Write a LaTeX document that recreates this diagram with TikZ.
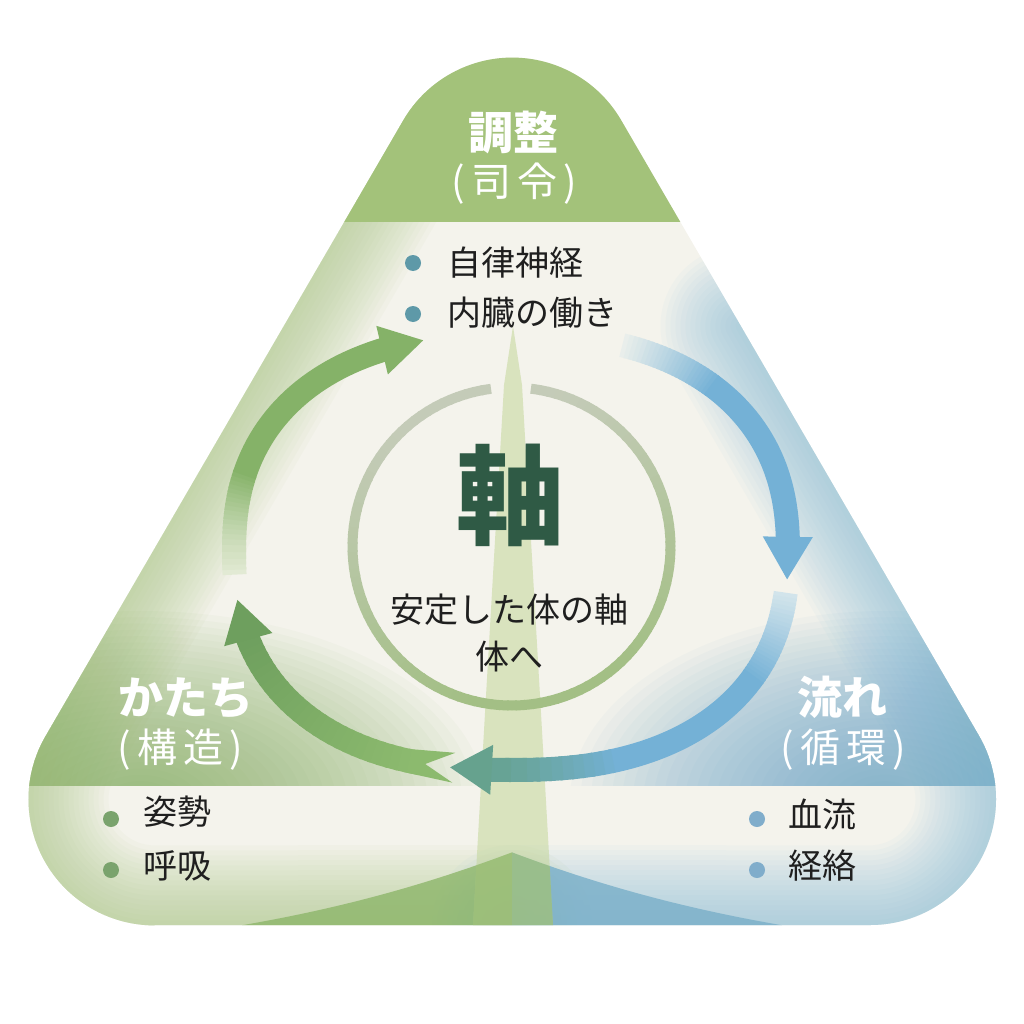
\documentclass[tikz,border=0pt]{standalone}
\usepackage{fontspec}
\setmainfont{Noto Sans CJK JP}
\usetikzlibrary{calc}
\definecolor{bgc}{HTML}{F4F3EC}
\definecolor{gGlow}{HTML}{A9C783}
\definecolor{bGlow}{HTML}{8DC0DA}
\definecolor{gBand}{HTML}{88B064}
\definecolor{bBand}{HTML}{6AA7CB}
\definecolor{gLens}{HTML}{8DB66A}
\definecolor{bLens}{HTML}{7DB1CA}
\definecolor{gTop}{HTML}{A3C27A}
\definecolor{beamc}{HTML}{C3D69A}
\definecolor{ringL}{HTML}{C4CBB8}
\definecolor{ringG}{HTML}{A3BF85}
\definecolor{gArrL}{HTML}{8CBA6E}
\definecolor{gArrD}{HTML}{6E9F5E}
\definecolor{gArrU}{HTML}{85B268}
\definecolor{bArr}{HTML}{74B1D6}
\definecolor{tealc}{HTML}{66A28E}
\definecolor{fadeG}{HTML}{E6ECD8}
\definecolor{fadeB}{HTML}{EEF1EC}
\definecolor{fadeC}{HTML}{D6E6EC}
\definecolor{dotT}{HTML}{5E99A8}
\definecolor{dotG}{HTML}{7AA36D}
\definecolor{dotB}{HTML}{80ADCB}
\definecolor{axisc}{HTML}{2F5A45}
\definecolor{txt}{HTML}{1F1F1F}
\def\mytri{(154,925) -- (870,925) arc[start angle=90,end angle=-30,radius=126] -- (621.4,120.6) arc[start angle=-30,end angle=-150,radius=126] -- (45.4,736.4) arc[start angle=210,end angle=90,radius=126] -- cycle}
\def\myleft{(402.6,120.6) -- (45.4,736.4) arc[start angle=210,end angle=90,radius=126] -- (512,925)}
\def\myright{(740.5,326) -- (978.6,736.4) arc[start angle=-30,end angle=90,radius=126] -- (512,925)}
\def\gcurve{(200,932) .. controls (380,905) and (520,860) .. (720,760) -- (720,1024) -- (0,1024) -- (0,932) -- cycle}
\def\bcurve{(824,932) .. controls (644,905) and (504,860) .. (304,760) -- (304,1024) -- (1024,1024) -- (1024,932) -- cycle}
\def\beampath{(513,326) -- (522,385) -- (541,713) -- (553,925) -- (473,925) -- (485,713) -- (504,385) -- cycle}
\tikzset{
  seg/.style={line width=24pt, line cap=butt, line join=round},
  bul/.style={font=\fontsize{34}{40}\selectfont, text=txt, anchor=west, inner sep=0pt},
  ttl/.style={font=\fontsize{45}{52}\selectfont\bfseries, text=white, inner sep=0pt},
  subt/.style={font=\fontsize{40}{46}\selectfont, text=white, inner sep=0pt},
  dotc/.style={circle, inner sep=0pt, minimum size=16pt},
  glow/.style={line join=round, line cap=round},
}
\begin{document}
\begin{tikzpicture}[x=1pt,y=-1pt,
  declare function={ex(\u)=511+277*cos(\u)*pow(abs(cos(\u))+0.00001,-0.15);
                    ey(\u)=552+218*sin(\u)*pow(abs(sin(\u))+0.00001,-0.15);}]
\useasboundingbox (0,0) rectangle (1024,1024);
\begin{scope}
  \clip \mytri;
  \fill[bgc] (0,0) rectangle (1024,1024);
  % edge glows
  \foreach \w in {10,20,...,160} {\draw[gGlow, glow, opacity=0.05, line width=\w pt] \myleft;}
  \foreach \w in {10,20,...,160} {\draw[bGlow, glow, opacity=0.055, line width=\w pt] \myright;}
  % bands
  \begin{scope}
    \clip (0,0) rectangle (1024,785);
    \foreach \k in {1,...,30} {\fill[gBand, opacity=0.045] (140,800) ellipse [x radius=11.5*\k, y radius=6.3*\k];}
    \foreach \k in {1,...,30} {\fill[bBand, opacity=0.045] (885,800) ellipse [x radius=10.5*\k, y radius=6.3*\k];}
  \end{scope}
  % bottom lenses
  \begin{scope}
    \clip (0,0) rectangle (512,1024);
    \fill[gLens, opacity=0.8] \gcurve;
  \end{scope}
  \begin{scope}
    \clip (512,0) rectangle (1024,1024);
    \fill[bLens, opacity=0.85] \bcurve;
  \end{scope}
  % top band
  \fill[gTop] (0,0) rectangle (1024,222);
  % beam
  \fill[beamc, opacity=0.55] \beampath;
  \begin{scope}
    \clip \beampath;
    \clip \gcurve;
    \fill[gLens, opacity=0.5] \bcurve;
  \end{scope}
\end{scope}
% ring
\foreach \a in {277,280,...,620} {
  \pgfmathsetmacro\b{min(\a+3.6,623.3)}
  \pgfmathtruncatemacro\p{max(0,min(100,50+55*sin(\a)+15*cos(\a)))}
  \draw[line width=10pt, color=ringG!\p!ringL] (511.5,546.5) ++(\a:159) arc[start angle=\a, end angle=\b, radius=159];
}
% arrow key points
\coordinate (g1n) at ({ex(104.6)},{ey(104.6)});
\coordinate (g1a) at ({ex(99)},{ey(99)});
\coordinate (g1b) at ({ex(100)},{ey(100)});
\coordinate (g1q) at ({ex(108)},{ey(108)});
\coordinate (g1r) at ({ex(109)},{ey(109)});
\coordinate (g1base) at ({ex(160)},{ey(160)});
\coordinate (g1tip) at ({ex(170.3)},{ey(170.3)});
\coordinate (g2base) at ({ex(246)},{ey(246)});
\coordinate (g2tip) at ({ex(255)},{ey(255)});
\coordinate (b1base) at ({ex(357.5)},{ey(357.5)});
\coordinate (b1tip) at ({ex(365)},{ey(365)});
\coordinate (b2base) at ({ex(92.5)},{ey(92.5)});
\coordinate (b2tip) at ({ex(99.7)},{ey(99.7)});
% lower green arrow (swallowtail tail)
\fill[gArrL] (g1n) -- ($(g1a)!15pt!90:(g1b)$) -- ($(g1q)!12pt!90:(g1r)$) -- ($(g1q)!12pt!-90:(g1r)$) -- ($(g1a)!15pt!-90:(g1b)$) -- cycle;
\foreach \a in {106,108,...,158} {
  \pgfmathsetmacro\b{\a+2.6}
  \pgfmathtruncatemacro\p{(\a-106)/54*100}
  \draw[seg, color=gArrD!\p!gArrL] plot[domain=\a:\b, samples=3] ({ex(\x)},{ey(\x)});
}
\fill[gArrD] (g1tip) -- ($(g1base)!25pt!90:(g1tip)$) -- ($(g1base)!25pt!-90:(g1tip)$) -- cycle;
% upper green arrow
\foreach \a in {176,177,...,196} {
  \pgfmathsetmacro\b{\a+1.5}
  \pgfmathtruncatemacro\p{(\a-175)/22*100}
  \draw[seg, color=gArrU!\p!fadeG] plot[domain=\a:\b, samples=2] ({ex(\x)},{ey(\x)});
}
\draw[seg, gArrU] plot[domain=197:247, samples=30] ({ex(\x)},{ey(\x)});
\fill[gArrU] (g2tip) -- ($(g2base)!25pt!90:(g2tip)$) -- ($(g2base)!25pt!-90:(g2tip)$) -- cycle;
% upper blue arrow
\foreach \a in {290,291,...,312} {
  \pgfmathsetmacro\b{\a+1.5}
  \pgfmathtruncatemacro\p{(\a-289)/24*100}
  \draw[seg, color=bArr!\p!fadeB] plot[domain=\a:\b, samples=2] ({ex(\x)},{ey(\x)});
}
\draw[seg, bArr] plot[domain=313:358.5, samples=40] ({ex(\x)},{ey(\x)});
\fill[bArr] (b1tip) -- ($(b1base)!25pt!90:(b1tip)$) -- ($(b1base)!25pt!-90:(b1tip)$) -- cycle;
% lower blue arrow
\foreach \a in {368,369,...,390} {
  \pgfmathsetmacro\b{\a+1.5}
  \pgfmathtruncatemacro\p{(\a-367)/24*100}
  \draw[seg, color=bArr!\p!fadeC] plot[domain=\a:\b, samples=2] ({ex(\x)},{ey(\x)});
}
\draw[seg, bArr] plot[domain=391:432.5, samples=30] ({ex(\x)},{ey(\x)});
\foreach \a in {432,434,...,450} {
  \pgfmathsetmacro\b{min(\a+2.6,453.5)}
  \pgfmathtruncatemacro\p{(\a-430)/22*100}
  \draw[seg, color=tealc!\p!bArr] plot[domain=\a:\b, samples=3] ({ex(\x)},{ey(\x)});
}
\fill[tealc] (b2tip) -- ($(b2base)!25pt!90:(b2tip)$) -- ($(b2base)!25pt!-90:(b2tip)$) -- cycle;
% texts
\node[ttl] (t1) at (513,132) {調整};
\node[subt] (s1) at (514,184) {(\hspace{6pt}司\hspace{6pt}令\hspace{6pt})};
\node[ttl] (t2) at (186,698) {かたち};
\node[subt] (s2) at (180,750) {(\hspace{6pt}構\hspace{6pt}造\hspace{6pt})};
\node[ttl] (t3) at (842,697) {流れ};
\node[subt] (s3) at (843,750) {(\hspace{6pt}循\hspace{6pt}環\hspace{6pt})};
\node[dotc, fill=dotT] (d1) at (413,263) {};
\node[dotc, fill=dotT] (d2) at (413,314) {};
\node[bul] (i1) at (447,263) {自律神経};
\node[bul] (i2) at (447,313) {内臓の働き};
\node[dotc, fill=dotG] (d3) at (111,819) {};
\node[dotc, fill=dotG] (d4) at (111,870) {};
\node[bul] (i3) at (143,812) {姿勢};
\node[bul] (i4) at (143,866) {呼吸};
\node[dotc, fill=dotB] (d5) at (757,819) {};
\node[dotc, fill=dotB] (d6) at (757,870) {};
\node[bul] (i5) at (788,815) {血流};
\node[bul] (i6) at (788,866) {経絡};
\node[font=\fontsize{108}{120}\selectfont\bfseries, text=axisc, inner sep=0pt] (ax) at (510,495) {軸};
\node[font=\fontsize{34}{40}\selectfont, text=txt, inner sep=0pt] (c1) at (509,610) {安定した体の軸};
\node[font=\fontsize{34}{40}\selectfont, text=txt, inner sep=0pt] (c2) at (509,657) {体へ};
\end{tikzpicture}
\end{document}
